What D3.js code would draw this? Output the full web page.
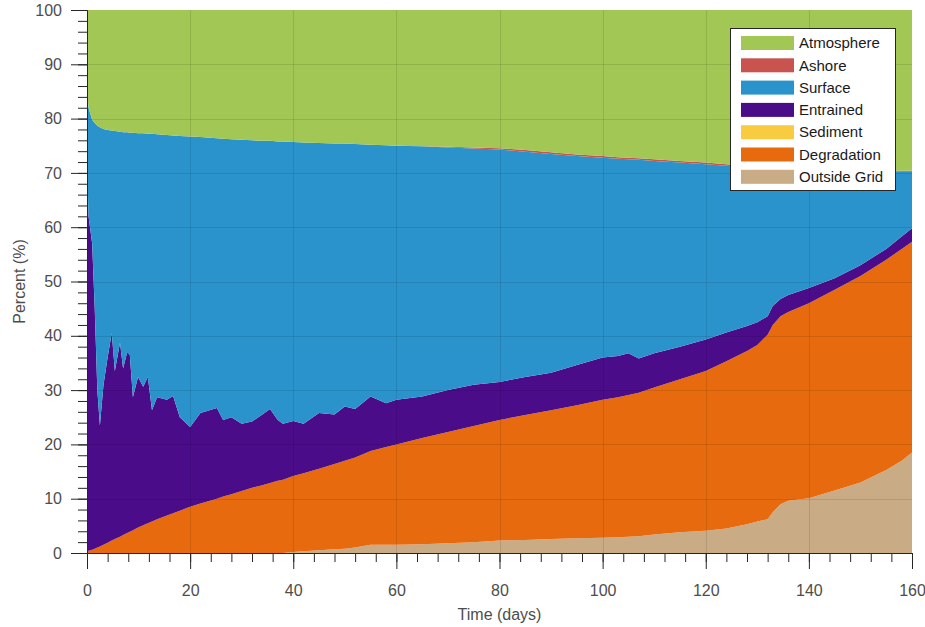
<!DOCTYPE html>
<html>
<head>
<meta charset="utf-8">
<script src="https://cdn.jsdelivr.net/npm/d3@7"></script>
<style>
  body { margin: 0; background: #fff; }
  svg { display: block; font-family: "Liberation Sans", Arial, Helvetica, sans-serif; }
</style>
</head>
<body>
<div id="chart"></div>
<script>
// Time (days) of each sample
const days = [0, 0.3, 1, 1.5, 2, 2.5, 3.2, 4, 4.8, 5.4,
  6.4, 7, 7.8, 8.3, 8.9, 9.9, 10.9, 11.8, 12.6, 13.6,
  15.5, 16.7, 18, 20, 22, 25.2, 26.4, 28, 30, 32,
  34, 35.5, 37, 38, 40, 42, 45, 48, 50, 52,
  55, 58, 60, 65, 70, 75, 80, 85, 90, 95,
  100, 103, 105, 107, 110, 115, 120, 124, 128, 130,
  132, 133, 134.5, 136, 140, 145, 150, 155, 158, 160];

// Percent of mass in each compartment
const outsideGrid = [0, 0, 0, 0, 0, 0, 0, 0, 0, 0,
  0, 0, 0, 0, 0, 0, 0, 0, 0, 0,
  0, 0, 0, 0, 0, 0, 0, 0, 0, 0,
  0, 0, 0, 0, 0.2, 0.3, 0.5, 0.7, 0.8, 1.0,
  1.5, 1.5, 1.5, 1.6, 1.8, 2.0, 2.3, 2.4, 2.6, 2.7,
  2.8, 2.9, 3.0, 3.1, 3.4, 3.8, 4.1, 4.5, 5.3, 5.8,
  6.2, 7.5, 9.0, 9.6, 10.1, 11.5, 13.0, 15.3, 17.0, 18.5];

const degradation = [0.3, 0.4, 0.6, 0.8, 1.0, 1.2, 1.5, 1.9, 2.3, 2.6,
  3.0, 3.3, 3.7, 3.9, 4.2, 4.7, 5.1, 5.5, 5.8, 6.2,
  6.9, 7.3, 7.8, 8.5, 9.1, 10.0, 10.4, 10.8, 11.4, 12.0,
  12.5, 12.9, 13.3, 13.5, 14.0, 14.4, 15.0, 15.7, 16.2, 16.6,
  17.3, 18.0, 18.5, 19.6, 20.5, 21.4, 22.2, 23.0, 23.7, 24.5,
  25.4, 25.8, 26.1, 26.4, 27.1, 28.2, 29.4, 30.8, 31.9, 32.5,
  34.0, 34.5, 34.6, 34.8, 35.9, 37.0, 38.0, 38.7, 39.0, 38.8];

const sediment = [0, 0, 0, 0, 0, 0, 0, 0, 0, 0,
  0, 0, 0, 0, 0, 0, 0, 0, 0, 0,
  0, 0, 0, 0, 0, 0, 0, 0, 0, 0,
  0, 0, 0, 0, 0, 0, 0, 0, 0, 0,
  0, 0, 0, 0, 0, 0, 0, 0, 0, 0,
  0, 0, 0, 0, 0, 0, 0, 0, 0, 0,
  0, 0, 0, 0, 0, 0, 0, 0, 0, 0];

const entrained = [71.7, 61.6, 56.4, 44.2, 29.0, 22.3, 29.5, 34.1, 38.2, 30.9,
  35.7, 30.7, 33.3, 32.6, 24.5, 27.7, 25.5, 26.9, 20.5, 22.5,
  21.3, 21.6, 17.2, 14.7, 16.7, 16.7, 14.1, 14.2, 12.4, 12.2,
  13.0, 13.6, 11.2, 10.3, 10.1, 9.1, 10.3, 9.1, 10.0, 8.9,
  10.0, 8.1, 8.2, 7.6, 7.7, 7.6, 7.0, 7.0, 6.9, 7.4,
  7.8, 7.6, 7.7, 6.3, 6.3, 6.0, 5.8, 5.3, 4.6, 4.2,
  3.4, 3.5, 3.2, 3.1, 2.8, 2.1, 2.0, 2.0, 2.3, 2.5];

const surface = [13.0, 20.0, 22.8, 34.2, 48.7, 54.9, 47.1, 41.9, 37.3, 44.2,
  38.9, 43.5, 40.5, 40.9, 48.7, 44.9, 46.7, 44.8, 50.9, 48.4,
  48.8, 48.0, 51.8, 53.5, 50.8, 49.7, 51.8, 51.2, 52.3, 51.8,
  50.4, 49.4, 51.3, 52.0, 51.4, 51.8, 49.7, 49.9, 48.4, 48.8,
  46.4, 47.5, 46.8, 46.1, 44.7, 43.5, 42.8, 41.5, 40.3, 38.5,
  36.8, 36.3, 35.7, 36.6, 35.4, 33.9, 32.3, 30.7, 29.2, 28.4,
  27.2, 25.2, 23.9, 23.1, 21.7, 19.8, 17.3, 14.3, 11.9, 10.4];

const ashore = [0, 0, 0, 0, 0, 0, 0, 0, 0, 0,
  0, 0, 0, 0, 0, 0, 0, 0, 0, 0,
  0, 0, 0, 0, 0, 0, 0, 0, 0, 0,
  0, 0, 0, 0, 0, 0, 0, 0, 0, 0,
  0, 0, 0, 0, 0.1, 0.2, 0.25, 0.3, 0.3, 0.3,
  0.3, 0.3, 0.3, 0.3, 0.3, 0.3, 0.3, 0.3, 0.25, 0.25,
  0.2, 0.2, 0.2, 0.2, 0.2, 0.2, 0.2, 0.2, 0.2, 0.2];

const atmosphere = [15.0, 18.0, 20.2, 20.8, 21.3, 21.6, 21.9, 22.1, 22.2, 22.3,
  22.4, 22.5, 22.5, 22.6, 22.6, 22.7, 22.7, 22.8, 22.8, 22.9,
  23.0, 23.1, 23.2, 23.3, 23.4, 23.6, 23.7, 23.8, 23.9, 24.0,
  24.1, 24.1, 24.2, 24.2, 24.3, 24.4, 24.5, 24.6, 24.6, 24.7,
  24.8, 24.9, 25.0, 25.1, 25.2, 25.3, 25.45, 25.8, 26.2, 26.6,
  26.9, 27.1, 27.2, 27.3, 27.5, 27.8, 28.1, 28.4, 28.75, 28.85,
  29.0, 29.1, 29.1, 29.2, 29.3, 29.4, 29.5, 29.5, 29.6, 29.6];

// stacking order, bottom to top
const seriesNames = ["Outside Grid", "Degradation", "Sediment", "Entrained", "Surface", "Ashore", "Atmosphere"];
const seriesValues = [outsideGrid, degradation, sediment, entrained, surface, ashore, atmosphere];
const seriesColors = ["#c9ab86", "#e86a0e", "#f8cb41", "#4b0c89", "#2a93cc", "#c8534f", "#a2c754"];
// legend order, top to bottom
const legendNames = ["Atmosphere", "Ashore", "Surface", "Entrained", "Sediment", "Degradation", "Outside Grid"];

const xTicks = [0, 20, 40, 60, 80, 100, 120, 140, 160];
const yTicks = [0, 10, 20, 30, 40, 50, 60, 70, 80, 90, 100];

(function () {
  const width = 925, height = 627;
  const margin = { top: 10, right: 13, bottom: 74, left: 87 };

  const svg = d3.select("#chart").append("svg")
    .attr("width", width)
    .attr("height", height);

  const x = d3.scaleLinear().domain([0, 160]).range([margin.left, width - margin.right]);
  const y = d3.scaleLinear().domain([0, 100]).range([height - margin.bottom, margin.top]);

  // one row per sample
  const rows = days.map((t, i) => {
    const r = { t: t };
    seriesNames.forEach((name, k) => { r[name] = seriesValues[k][i]; });
    return r;
  });

  const stacked = d3.stack().keys(seriesNames)(rows);
  const color = d3.scaleOrdinal().domain(seriesNames).range(seriesColors);

  const area = d3.area()
    .x(d => x(d.data.t))
    .y0(d => y(d[0]))
    .y1(d => y(d[1]));

  svg.append("g")
    .selectAll("path")
    .data(stacked)
    .join("path")
    .attr("fill", d => color(d.key))
    .attr("d", area);

  // grid lines drawn over the fills, like the original
  const grid = svg.append("g").attr("stroke", "#000").attr("stroke-opacity", 0.1).attr("stroke-width", 1);
  grid.selectAll("line.gx")
    .data(xTicks.slice(1, -1))
    .join("line")
    .attr("class", "gx")
    .attr("x1", d => Math.round(x(d)) + 0.5).attr("x2", d => Math.round(x(d)) + 0.5)
    .attr("y1", y(0)).attr("y2", y(100));
  grid.selectAll("line.gy")
    .data(yTicks.slice(1, -1))
    .join("line")
    .attr("class", "gy")
    .attr("x1", x(0)).attr("x2", x(160))
    .attr("y1", d => Math.round(y(d)) + 0.5).attr("y2", d => Math.round(y(d)) + 0.5);

  const axisColor = "#262626";
  const labelColor = "#4d4d4d";

  // minor ticks
  const xMinor = d3.axisBottom(x).tickValues(d3.range(0, 161, 4)).tickSize(9).tickFormat("");
  const yMinor = d3.axisLeft(y).tickValues(d3.range(0, 101, 2)).tickSize(9).tickFormat("");

  const gxMinor = svg.append("g").attr("transform", `translate(0,${y(0)})`).call(xMinor);
  const gyMinor = svg.append("g").attr("transform", `translate(${x(0)},0)`).call(yMinor);

  // major ticks and labels
  const xAxis = d3.axisBottom(x).tickValues(xTicks).tickSize(16).tickPadding(16).tickSizeOuter(0);
  const yAxis = d3.axisLeft(y).tickValues(yTicks).tickSize(16).tickPadding(9).tickSizeOuter(0);

  const gx = svg.append("g").attr("transform", `translate(0,${y(0)})`).call(xAxis);
  const gy = svg.append("g").attr("transform", `translate(${x(0)},0)`).call(yAxis);

  [gxMinor, gyMinor, gx, gy].forEach(g => {
    g.selectAll("line").attr("stroke", axisColor);
    g.select(".domain").attr("stroke", axisColor);
  });
  [gx, gy].forEach(g => {
    g.selectAll("text")
      .attr("fill", labelColor)
      .style("font-size", "16px")
      .style("font-family", "'Liberation Sans', Arial, sans-serif");
  });

  svg.append("text")
    .attr("x", (x(0) + x(160)) / 2)
    .attr("y", 620)
    .attr("text-anchor", "middle")
    .attr("fill", labelColor)
    .style("font-size", "16px")
    .text("Time (days)");

  svg.append("text")
    .attr("transform", `translate(25,${(y(0) + y(100)) / 2}) rotate(-90)`)
    .attr("text-anchor", "middle")
    .attr("fill", labelColor)
    .style("font-size", "16px")
    .text("Percent (%)");

  // legend
  const legend = svg.append("g").attr("transform", "translate(730,28)");
  legend.append("rect")
    .attr("x", 0.5).attr("y", 0.5)
    .attr("width", 165).attr("height", 162)
    .attr("fill", "#fff")
    .attr("stroke", "#262626");

  const item = legend.selectAll("g.item")
    .data(legendNames)
    .join("g")
    .attr("class", "item")
    .attr("transform", (d, i) => `translate(0,${15 + i * 22.3})`);

  item.append("rect")
    .attr("x", 11).attr("y", -7)
    .attr("width", 53).attr("height", 14)
    .attr("fill", d => color(d));

  item.append("text")
    .attr("x", 69).attr("y", 0)
    .attr("dy", "0.35em")
    .attr("fill", "#1a1a1a")
    .style("font-size", "15px")
    .text(d => d);
})();
</script>
</body>
</html>
